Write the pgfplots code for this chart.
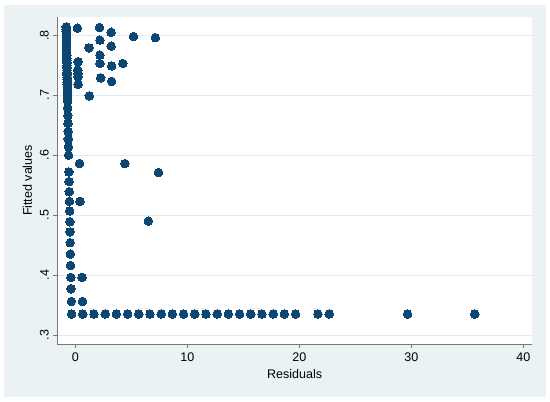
\documentclass[border=0pt]{standalone}
\usepackage{fontspec}
\setmainfont{Liberation Sans}
\usepackage{pgfplots}
\pgfplotsset{compat=1.18}
\definecolor{stbg}{RGB}{234,242,243}
\definecolor{stgrid}{RGB}{226,234,237}
\definecolor{stnavy}{RGB}{12,70,114}
\definecolor{staxis}{RGB}{120,120,120}
\begin{document}
\begin{tikzpicture}
\useasboundingbox (-57.3pt,-58pt) rectangle (492.7pt,344pt);
\fill[stbg] (-53.3pt,-52.7pt) rectangle (488.4pt,339pt);
\begin{axis}[
  scale only axis, width=474.7pt, height=327pt,
  xmin=-1.607, xmax=40.78, ymin=0.285, ymax=0.8305,
  axis background/.style={fill=white},
  axis x line*=bottom, axis y line*=left,
  axis line style={staxis, line width=0.8pt},
  xtick={0,10,20,30,40}, xticklabels={0,10,20,30,40},
  ytick={0.3,0.4,0.5,0.6,0.7,0.8}, yticklabels={.3,.4,.5,.6,.7,.8},
  tick align=outside, major tick length=4pt,
  tick style={staxis, line width=0.8pt},
  ymajorgrids, grid style={stgrid, line width=0.6pt},
  font=\fontsize{12.5}{14}\selectfont,
  xticklabel style={inner sep=0pt, inner ysep=4.7pt, anchor=north},
  yticklabel style={rotate=90, anchor=south, inner sep=0pt, inner ysep=4.3pt},
  xlabel={Residuals}, ylabel={Fitted values},
  every axis x label/.style={at={(axis description cs:0.5,-0.105)}, anchor=base},
  every axis y label/.style={at={(axis description cs:-0.0533,0.5)}, rotate=90, anchor=base},
  clip=false,
]
\addplot[only marks, mark=*, mark size=4.3pt, mark options={fill=stnavy, draw=stnavy, line width=0pt}] coordinates {
(-0.335,0.335) (-0.356,0.356) (-0.377,0.377) (-0.396,0.396) (-0.416,0.416) (-0.435,0.435)
(-0.454,0.454) (-0.472,0.472) (-0.489,0.489) (-0.507,0.507) (-0.523,0.523) (-0.539,0.539)
(-0.556,0.556) (-0.572,0.572) (-0.600,0.600) (-0.614,0.614) (-0.627,0.627) (-0.640,0.640)
(-0.653,0.653) (-0.666,0.666) (-0.679,0.679)
(-0.690,0.690) (-0.694,0.694) (-0.698,0.698) (-0.702,0.702) (-0.706,0.706) (-0.710,0.710)
(-0.714,0.714) (-0.718,0.718) (-0.722,0.722) (-0.726,0.726) (-0.730,0.730) (-0.734,0.734)
(-0.738,0.738) (-0.742,0.742) (-0.746,0.746) (-0.750,0.750) (-0.754,0.754) (-0.758,0.758)
(-0.762,0.762) (-0.766,0.766) (-0.770,0.770) (-0.774,0.774) (-0.778,0.778) (-0.782,0.782)
(-0.786,0.786) (-0.790,0.790) (-0.794,0.794) (-0.798,0.798) (-0.802,0.802) (-0.806,0.806)
(-0.810,0.810) (-0.814,0.814)
(0.19,0.812) (2.15,0.813) (3.2,0.805) (5.2,0.798) (7.15,0.796) (2.2,0.792)
(1.22,0.779) (3.2,0.782) (2.2,0.767) (0.25,0.756) (2.2,0.753) (3.25,0.749) (4.25,0.753)
(0.22,0.742) (0.24,0.736) (0.24,0.731) (2.27,0.729) (3.25,0.723) (0.25,0.718) (1.25,0.699)
(0.38,0.586) (4.42,0.586) (7.42,0.571) (0.42,0.523) (6.52,0.490)
(0.60,0.396) (0.65,0.356)
(0.665,0.335) (1.665,0.335) (2.665,0.335) (3.665,0.335) (4.665,0.335) (5.665,0.335)
(6.665,0.335) (7.665,0.335) (8.665,0.335) (9.665,0.335) (10.665,0.335) (11.665,0.335)
(12.665,0.335) (13.665,0.335) (14.665,0.335) (15.665,0.335) (16.665,0.335) (17.665,0.335)
(18.665,0.335) (19.665,0.335) (21.665,0.335) (22.665,0.335) (29.665,0.335) (35.665,0.335)
};
\end{axis}
\end{tikzpicture}
\end{document}
